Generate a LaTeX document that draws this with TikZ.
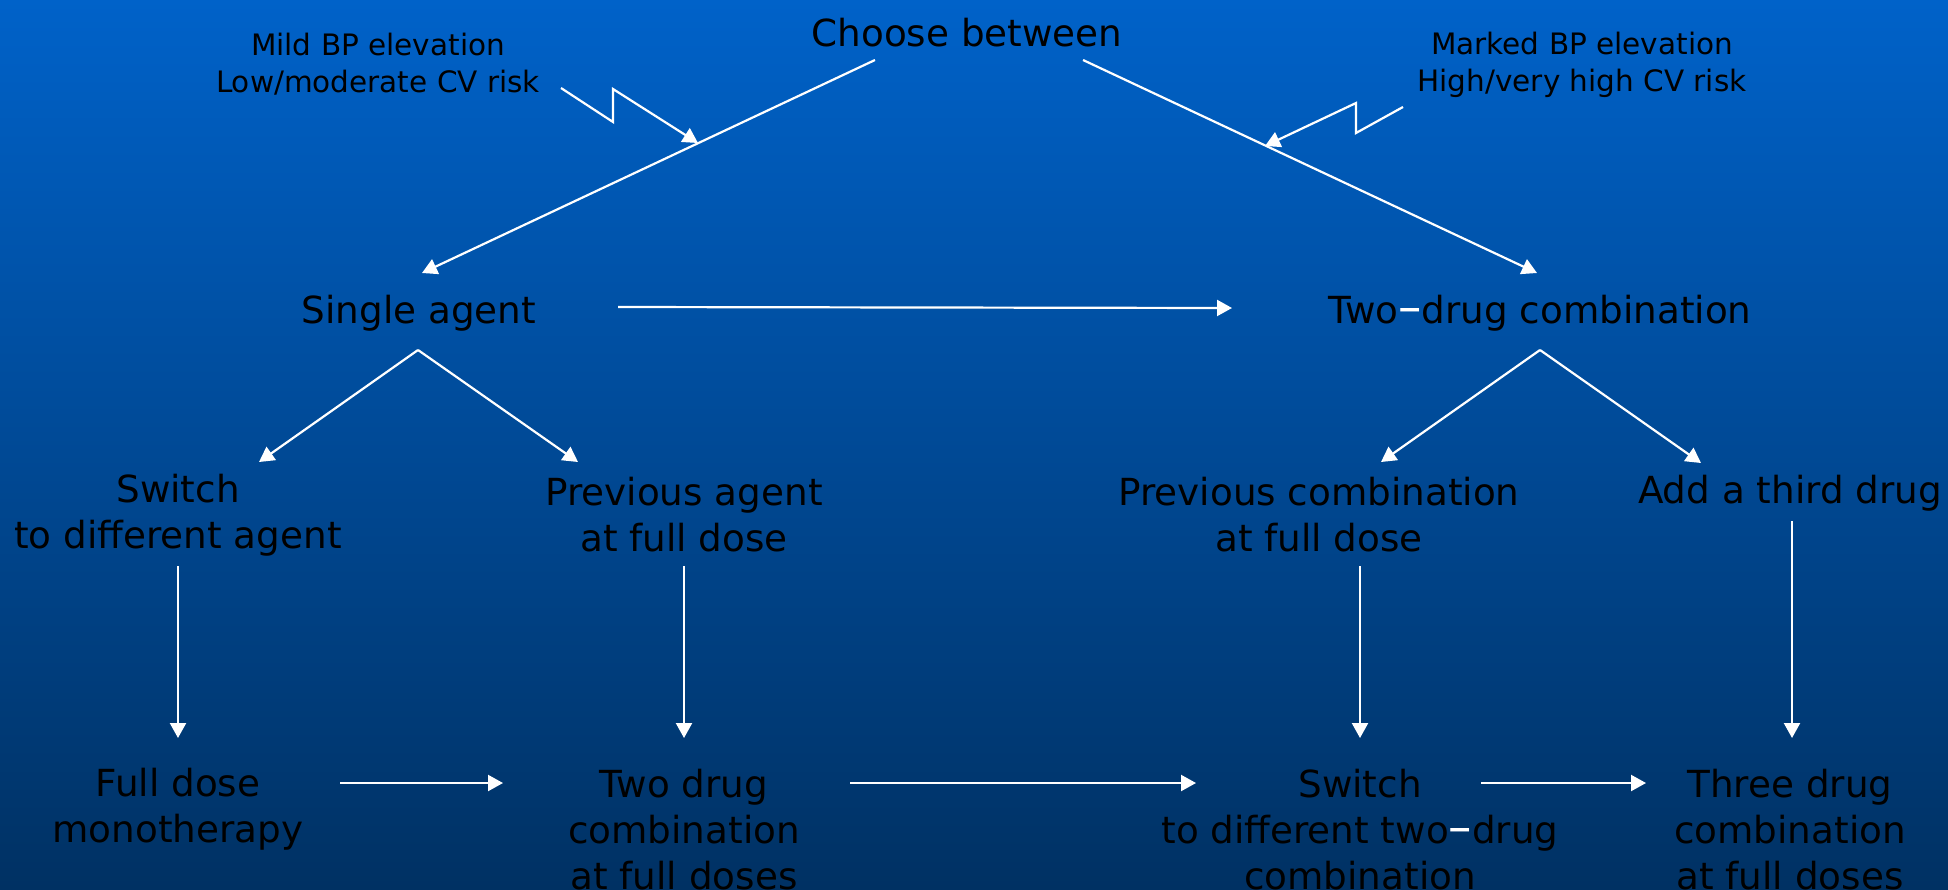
\documentclass[tikz,border=0pt]{standalone}
\usepackage{fontspec}
\usepackage{graphicx}
\setmainfont{DejaVu Sans}
\usetikzlibrary{calc,arrows.meta}
\definecolor{bgtop}{RGB}{0,98,201}
\definecolor{bgmid}{RGB}{0,80,160}
\definecolor{bgbot}{RGB}{0,49,99}
\tikzset{
  lbl/.style={text=black, inner sep=0pt, align=center, font=\fontsize{37.3}{46}\selectfont},
  smalllbl/.style={text=black, inner sep=0pt, align=center, font=\fontsize{29.5}{37}\selectfont},
  arr/.style={draw=white, line width=2.2pt, -{Triangle[length=15pt,width=16pt]}},
}
\newcommand{\wdash}{{\color{white}\scalebox{1.25}[1.3]{--}}}
\begin{document}
\begin{tikzpicture}[x=1pt,y=-1pt]
\useasboundingbox (0,0) rectangle (1948,889);
\shade[top color=bgtop, middle color=bgmid, bottom color=bgbot] (0,0) rectangle (1948,889);

% nodes
\node[lbl] (choose) at (967,33) {Choose between};
\node[smalllbl] (mild) at (378,64) {Mild BP elevation\\Low/moderate CV risk};
\node[smalllbl] (marked) at (1582,65) {Marked BP elevation\\High/very high CV risk};
\node[lbl] (single) at (419,313) {Single agent};
\node[lbl] (two) at (1540,313) {Two\wdash drug combination};
\node[lbl] (switch) at (178,515) {Switch\\to different agent};
\node[lbl] (prevagent) at (684,515) {Previous agent\\at full dose};
\node[lbl] (prevcomb) at (1319,515) {Previous combination\\at full dose};
\node[lbl] (add) at (1790,493) {Add a third drug};
\node[lbl] (fulldose) at (178,809) {Full dose\\monotherapy};
\node[lbl] (twodrug) at (684,830) {Two drug\\combination\\at full doses};
\node[lbl] (switchtwo) at (1360,830) {Switch\\to different two\wdash drug\\combination};
\node[lbl] (three) at (1790,830) {Three drug\\combination\\at full doses};

% top connectors
\draw[arr] ($(choose)+(-92,27)$) -- ($(single)+(3,-40)$);
\draw[arr] ($(choose)+(116,27)$) -- ($(two)+(-3,-40)$);
\draw[arr] ($(single)+(199,-6)$) -- ($(two)+(-308,-5)$);

% zigzag indicators
\draw[arr] ($(mild)+(183,24)$) -- ++(52,34) -- ++(0,-33) -- ++(85,54);
\draw[arr] ($(marked)+(-179,42)$) -- ++(-47,26) -- ++(0,-30) -- ++(-91,43);

% branches
\coordinate (sapex) at ($(single)+(-1,37)$);
\draw[arr] (sapex) -- ($(switch)+(81,-53)$);
\draw[arr] (sapex) -- ($(prevagent)+(-106,-53)$);
\coordinate (tapex) at ($(two)+(0,37)$);
\draw[arr] (tapex) -- ($(prevcomb)+(62,-53)$);
\draw[arr] (tapex) -- ($(add)+(-89,-30)$);

% verticals
\draw[arr] ($(switch)+(0,51)$) -- ($(fulldose)+(0,-71)$);
\draw[arr] ($(prevagent)+(0,51)$) -- ($(twodrug)+(0,-92)$);
\draw[arr] ($(prevcomb)+(41,51)$) -- ($(switchtwo)+(0,-92)$);
\draw[arr] ($(add)+(2,28)$) -- ($(three)+(2,-92)$);

% bottom horizontals
\draw[arr] ($(fulldose)+(162,-26)$) -- ($(twodrug)+(-181,-47)$);
\draw[arr] ($(twodrug)+(166,-47)$) -- ($(switchtwo)+(-164,-47)$);
\draw[arr] ($(switchtwo)+(121,-47)$) -- ($(three)+(-144,-47)$);
\end{tikzpicture}
\end{document}
